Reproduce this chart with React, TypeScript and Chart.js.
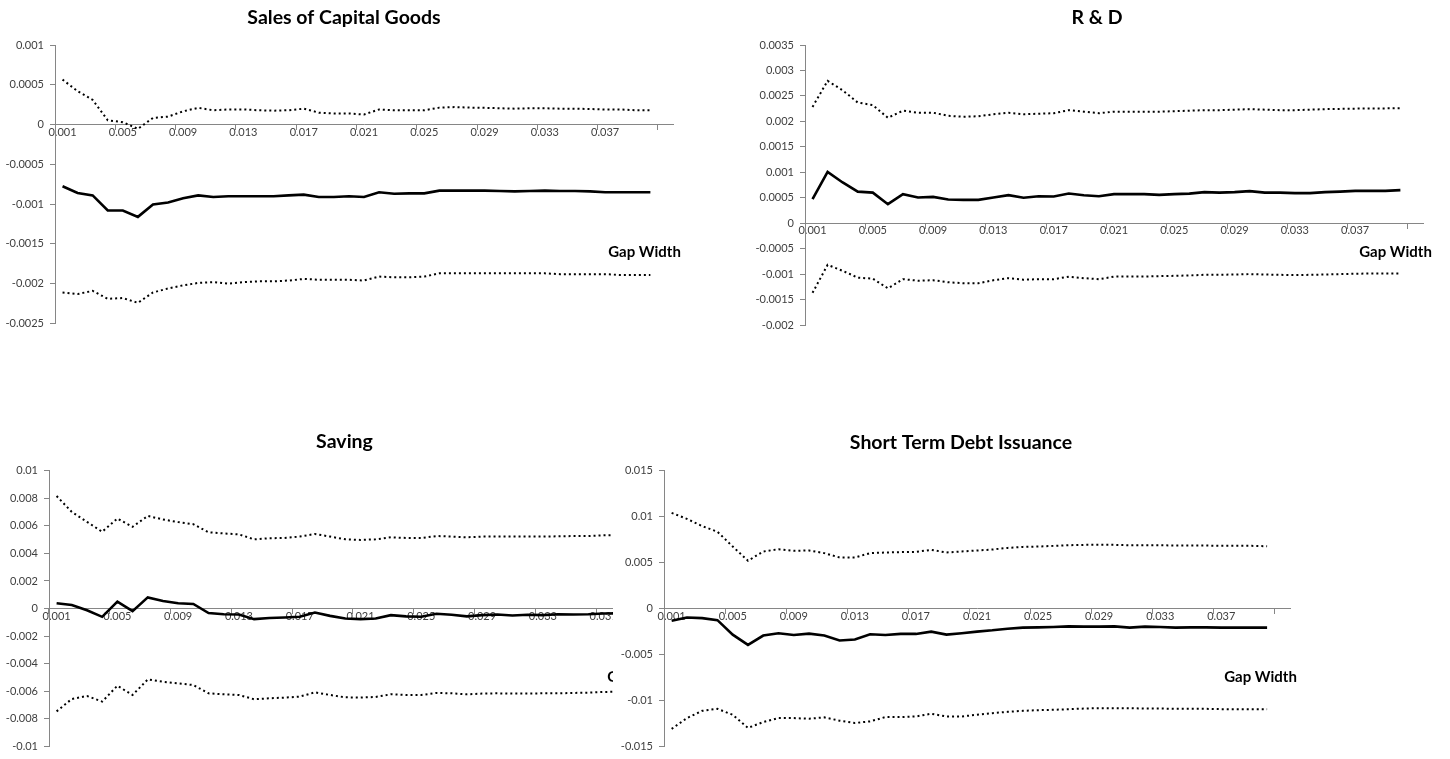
import React, { useEffect, useRef } from "react";
import { Chart, registerables } from "chart.js";

Chart.register(...registerables);

const FONT = "Lato, 'Open Sans', sans-serif";

// Gap width categories (x axis)
const categories = [
  "0.001", "0.002", "0.003", "0.004", "0.005", "0.006", "0.007", "0.008", "0.009", "0.010",
  "0.011", "0.012", "0.013", "0.014", "0.015", "0.016", "0.017", "0.018", "0.019", "0.020",
  "0.021", "0.022", "0.023", "0.024", "0.025", "0.026", "0.027", "0.028", "0.029", "0.030",
  "0.031", "0.032", "0.033", "0.034", "0.035", "0.036", "0.037", "0.038", "0.039", "0.040",
];
// empty trailing category row of the source sheet
const trailingCategory = "";
const xLabelEvery = 4;
const xAxisTitle = "Gap Width";

// ---- Sales of Capital Goods ----
const salesUpper = [
  0.000565, 0.00042, 0.00031, 0.000054, 0.00003, -0.000054, 0.000084, 0.0001, 0.000167, 0.00021,
  0.00018, 0.00019, 0.00019, 0.00018, 0.000175, 0.00018, 0.0002, 0.00015, 0.00014, 0.00014,
  0.000126, 0.00019, 0.00018, 0.00018, 0.00018, 0.000213, 0.00022, 0.000213, 0.00021, 0.000205,
  0.0002, 0.000205, 0.000205, 0.0002, 0.0002, 0.000195, 0.00019, 0.00019, 0.00018, 0.00018,
];
const salesMid = [
  -0.000775, -0.00086, -0.00089, -0.00108, -0.00108, -0.00116, -0.001005, -0.00098, -0.000925, -0.00089,
  -0.00091, -0.0009, -0.0009, -0.0009, -0.0009, -0.00089, -0.00088, -0.00091, -0.00091, -0.0009,
  -0.00091, -0.00085, -0.00087, -0.000865, -0.000865, -0.00083, -0.00083, -0.00083, -0.00083, -0.000835,
  -0.00084, -0.000835, -0.00083, -0.000835, -0.000835, -0.00084, -0.00085, -0.00085, -0.00085, -0.00085,
];
const salesLower = [
  -0.00211, -0.00213, -0.00209, -0.00219, -0.00218, -0.00224, -0.00211, -0.00206, -0.00202, -0.00199,
  -0.00198, -0.002, -0.00198, -0.00197, -0.00197, -0.00196, -0.00194, -0.00195, -0.00195, -0.00195,
  -0.00196, -0.00191, -0.00192, -0.00192, -0.00191, -0.00187, -0.00187, -0.00187, -0.00187, -0.00187,
  -0.00187, -0.00187, -0.00187, -0.00188, -0.00188, -0.00188, -0.00188, -0.00189, -0.00189, -0.00189,
];

// ---- R & D ----
const rdUpper = [
  0.002284, 0.002795, 0.00261, 0.00237, 0.00232, 0.00207, 0.00221, 0.00217, 0.00217, 0.00211,
  0.00209, 0.0021, 0.00214, 0.00217, 0.00214, 0.00215, 0.00216, 0.00222, 0.00219, 0.00216,
  0.00219, 0.00219, 0.00219, 0.00219, 0.0022, 0.00221, 0.00222, 0.00222, 0.00223, 0.00224,
  0.00223, 0.00222, 0.00222, 0.00223, 0.00224, 0.002245, 0.00225, 0.002255, 0.002255, 0.002258,
];
const rdMid = [
  0.000471, 0.001008, 0.0008, 0.00062, 0.0006, 0.000373, 0.00057, 0.000504, 0.000517, 0.000465,
  0.000458, 0.000458, 0.000504, 0.00055, 0.0005, 0.00053, 0.000524, 0.000582, 0.00055, 0.00053,
  0.00057, 0.00057, 0.00057, 0.000556, 0.00057, 0.00058, 0.00061, 0.0006, 0.00061, 0.00063,
  0.0006, 0.0006, 0.00059, 0.00059, 0.00061, 0.00062, 0.000635, 0.000635, 0.000635, 0.00065,
];
const rdLower = [
  -0.001368, -0.000818, -0.000936, -0.00107, -0.00109, -0.00128, -0.0011, -0.00113, -0.00112, -0.00116,
  -0.00118, -0.00118, -0.00112, -0.00108, -0.00111, -0.0011, -0.0011, -0.00105, -0.00108, -0.0011,
  -0.00105, -0.001047, -0.001047, -0.00104, -0.001034, -0.001027, -0.001014, -0.001014, -0.001008, -0.001,
  -0.001008, -0.001014, -0.00102, -0.001014, -0.001008, -0.001, -0.000994, -0.000988, -0.000988, -0.000988,
];

// ---- Saving ----
const savingUpper = [
  0.00816, 0.00701, 0.00629, 0.00557, 0.00653, 0.00593, 0.00672, 0.00646, 0.00627, 0.00612,
  0.00553, 0.00545, 0.00538, 0.00502, 0.0051, 0.00512, 0.00522, 0.00541, 0.00522, 0.00502,
  0.00498, 0.00502, 0.00517, 0.00512, 0.00512, 0.00526, 0.00522, 0.00517, 0.00522, 0.00522,
  0.00522, 0.00522, 0.00522, 0.00524, 0.00526, 0.00526, 0.00531, 0.00533, 0.00533, 0.00535,
];
const savingMid = [
  0.00038, 0.00026, -0.00012, -0.0006, 0.0005, -0.00019, 0.00081, 0.00055, 0.00038, 0.00033,
  -0.00033, -0.00041, -0.00043, -0.00077, -0.00069, -0.00065, -0.0006, -0.00029, -0.00053, -0.00072,
  -0.00077, -0.00072, -0.00048, -0.00057, -0.0006, -0.00038, -0.00045, -0.00057, -0.00048, -0.00043,
  -0.0005, -0.00045, -0.00048, -0.00041, -0.00043, -0.00041, -0.00036, -0.00035, -0.00035, -0.00034,
];
const savingLower = [
  -0.00746, -0.00656, -0.00634, -0.00675, -0.0056, -0.00627, -0.00514, -0.00531, -0.00543, -0.00555,
  -0.00615, -0.00622, -0.00627, -0.00658, -0.00651, -0.00646, -0.00639, -0.00608, -0.00627, -0.00644,
  -0.00646, -0.00641, -0.00622, -0.00627, -0.00627, -0.00612, -0.00615, -0.00622, -0.00617, -0.00615,
  -0.00617, -0.00617, -0.00615, -0.00615, -0.00612, -0.0061, -0.00605, -0.00603, -0.006, -0.006,
];

// ---- Short Term Debt Issuance ----
const debtUpper = [
  0.01041, 0.00976, 0.00897, 0.00836, 0.00675, 0.0052, 0.00621, 0.00646, 0.00628, 0.00632,
  0.00603, 0.00556, 0.00556, 0.00603, 0.0061, 0.00614, 0.00617, 0.00639, 0.0061, 0.00621,
  0.00632, 0.00642, 0.0066, 0.00671, 0.00675, 0.00682, 0.00689, 0.00693, 0.00693, 0.00693,
  0.00689, 0.00689, 0.00689, 0.00686, 0.00686, 0.00686, 0.00682, 0.00682, 0.00682, 0.00678,
];
const debtMid = [
  -0.00133, -0.00097, -0.00104, -0.00126, -0.00284, -0.00395, -0.00294, -0.00269, -0.00287, -0.00273,
  -0.00294, -0.00348, -0.00337, -0.0028, -0.00287, -0.00276, -0.00276, -0.00251, -0.00284, -0.00269,
  -0.00251, -0.00237, -0.00219, -0.00208, -0.00205, -0.00201, -0.00194, -0.00197, -0.00197, -0.00194,
  -0.00208, -0.00197, -0.00201, -0.00208, -0.00205, -0.00205, -0.00208, -0.00208, -0.00208, -0.00208,
];
const debtLower = [
  -0.0131, -0.01192, -0.01113, -0.01091, -0.01156, -0.01299, -0.01235, -0.01192, -0.01192, -0.01199,
  -0.01184, -0.0122, -0.01245, -0.01228, -0.01181, -0.01181, -0.01174, -0.01145, -0.01174, -0.01174,
  -0.01156, -0.01138, -0.01124, -0.01113, -0.01106, -0.01102, -0.01095, -0.01088, -0.01084, -0.01084,
  -0.01084, -0.01088, -0.01088, -0.01091, -0.01091, -0.01091, -0.01095, -0.01095, -0.01095, -0.01095,
];

type Rect = { left: number; top: number; width: number; height: number };
type Area = { left: number; top: number; right: number; bottom: number };
type Pt = { x: number; y: number };

type PanelSpec = {
  title: string;
  upper: number[];
  mid: number[];
  lower: number[];
  yMin: number;
  yMax: number;
  yStep: number;
  box: Rect; // canvas position on page
  area: Area; // plot area on page
  titlePos: Pt;
  gapPos: Pt;
};

const AXIS_COLOR = "#868686";
const TICK_TEXT = "#404040";
const TICK_FONT = { family: FONT, size: 11 };

const fmt = (v: number) => String(Number(Number(v).toFixed(6)));

function Panel({ spec, z }: { spec: PanelSpec; z: number }) {
  const ref = useRef<HTMLCanvasElement | null>(null);

  useEffect(() => {
    if (!ref.current) return;
    const { box, area } = spec;
    const yWidth = area.left - box.left;
    const padTop = area.top - box.top;
    const padBottom = box.top + box.height - area.bottom;
    const padRight = box.left + box.width - area.right;

    const textPlugin = {
      id: "panelText",
      afterDraw(chart: any) {
        const ctx = chart.ctx as CanvasRenderingContext2D;
        ctx.save();
        ctx.fillStyle = "#000";
        ctx.textAlign = "center";
        ctx.textBaseline = "middle";
        ctx.font = `bold 19.5px ${FONT}`;
        ctx.fillText(spec.title, spec.titlePos.x - box.left, spec.titlePos.y - box.top);
        ctx.font = `bold 15px ${FONT}`;
        ctx.fillText(xAxisTitle, spec.gapPos.x - box.left, spec.gapPos.y - box.top);
        ctx.restore();
      },
    };

    const dotted = {
      borderColor: "#000",
      borderWidth: 2,
      borderDash: [2, 3],
      pointRadius: 0,
      fill: false,
      tension: 0,
    };
    const solid = {
      borderColor: "#000",
      borderWidth: 2.6,
      pointRadius: 0,
      fill: false,
      tension: 0,
    };

    const chart = new Chart(ref.current, {
      type: "line",
      data: {
        labels: [...categories, trailingCategory],
        datasets: [
          { label: "upper", data: spec.upper, ...dotted },
          { label: "estimate", data: spec.mid, ...solid },
          { label: "lower", data: spec.lower, ...dotted },
        ],
      },
      options: {
        responsive: false,
        animation: false,
        events: [],
        layout: { padding: { left: 0, top: padTop, bottom: padBottom, right: padRight } },
        plugins: { legend: { display: false }, tooltip: { enabled: false }, title: { display: false } },
        scales: {
          x: {
            type: "category",
            position: { y: 0 } as any,
            offset: true,
            grid: {
              offset: true,
              drawOnChartArea: false,
              drawTicks: true,
              tickLength: 5,
              color: (ctx: any) =>
                typeof ctx.index === "number" && ctx.index % xLabelEvery === 0 ? AXIS_COLOR : "rgba(0,0,0,0)",
            },
            border: { display: true, color: AXIS_COLOR, width: 1 },
            ticks: {
              autoSkip: false,
              maxRotation: 0,
              minRotation: 0,
              padding: -4,
              color: TICK_TEXT,
              font: TICK_FONT,
              callback: (_v: any, i: number) =>
                i % xLabelEvery === 0 && i < categories.length ? categories[i] : "",
            },
          },
          y: {
            type: "linear",
            position: "left",
            min: spec.yMin,
            max: spec.yMax,
            afterFit: (scale: any) => {
              scale.width = yWidth;
            },
            grid: { drawOnChartArea: false, drawTicks: true, tickLength: 5, color: AXIS_COLOR },
            border: { display: true, color: AXIS_COLOR, width: 1 },
            ticks: {
              stepSize: spec.yStep,
              padding: 6,
              color: TICK_TEXT,
              font: TICK_FONT,
              callback: (v: any) => fmt(v),
            },
          },
        },
      } as any,
      plugins: [textPlugin],
    });
    return () => chart.destroy();
  }, [spec]);

  return (
    <canvas
      ref={ref}
      width={spec.box.width}
      height={spec.box.height}
      style={{
        position: "absolute",
        left: spec.box.left,
        top: spec.box.top,
        width: spec.box.width,
        height: spec.box.height,
        background: "#fff",
        zIndex: z,
      }}
    />
  );
}

const panels: PanelSpec[] = [
  {
    title: "Sales of Capital Goods",
    upper: salesUpper,
    mid: salesMid,
    lower: salesLower,
    yMin: -0.0025,
    yMax: 0.001,
    yStep: 0.0005,
    box: { left: 0, top: 0, width: 700, height: 345 },
    area: { left: 55, top: 45, right: 673, bottom: 323.5 },
    titlePos: { x: 344, y: 18 },
    gapPos: { x: 644.5, y: 252 },
  },
  {
    title: "R & D",
    upper: rdUpper,
    mid: rdMid,
    lower: rdLower,
    yMin: -0.002,
    yMax: 0.0035,
    yStep: 0.0005,
    box: { left: 700, top: 0, width: 750, height: 345 },
    area: { left: 805, top: 45, right: 1423, bottom: 325 },
    titlePos: { x: 1097, y: 18 },
    gapPos: { x: 1395.5, y: 252 },
  },
  {
    title: "Saving",
    upper: savingUpper,
    mid: savingMid,
    lower: savingLower,
    yMin: -0.01,
    yMax: 0.01,
    yStep: 0.002,
    box: { left: 0, top: 420, width: 700, height: 339 },
    area: { left: 49, top: 470.7, right: 672, bottom: 749 },
    titlePos: { x: 344.5, y: 442 },
    gapPos: { x: 643.5, y: 677 },
  },
  {
    title: "Short Term Debt Issuance",
    upper: debtUpper,
    mid: debtMid,
    lower: debtLower,
    yMin: -0.015,
    yMax: 0.015,
    yStep: 0.005,
    box: { left: 613, top: 420, width: 837, height: 339 },
    area: { left: 664, top: 470.7, right: 1290, bottom: 749 },
    titlePos: { x: 961, y: 443 },
    gapPos: { x: 1260.5, y: 677 },
  },
];

export default function App() {
  return (
    <div
      style={{
        position: "absolute",
        left: 0,
        top: 0,
        width: 1450,
        height: 759,
        overflow: "hidden",
        background: "#fff",
      }}
    >
      {panels.map((p, i) => (
        <Panel key={p.title} spec={p} z={i + 1} />
      ))}
    </div>
  );
}
